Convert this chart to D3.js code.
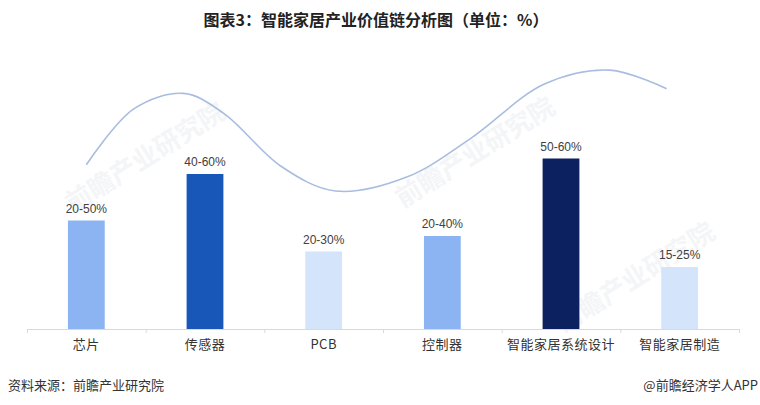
<!DOCTYPE html>
<html lang="zh-CN">
<head>
<meta charset="UTF-8">
<title>智能家居产业价值链分析图</title>
<script src="https://cdn.jsdelivr.net/npm/d3@7"></script>
<style>
  html, body { margin: 0; padding: 0; background: #fff; }
  svg { display: block; font-family: "Noto Sans CJK SC", "Noto Sans", sans-serif; }
</style>
</head>
<body>
<svg id="chart" width="760" height="405"></svg>
<script>
// stages of the value chain
const categories = ['芯片', '传感器', 'PCB', '控制器', '智能家居系统设计', '智能家居制造']
// gross margin ranges as printed, and the midpoint each bar is drawn at
const rangeLabels = ['20-50%', '40-60%', '20-30%', '20-40%', '50-60%', '15-25%']
const midValues = [35, 50, 25, 30, 55, 20]
const barColors = ['#8cb4f2', '#1856b8', '#d4e4fb', '#8cb4f2', '#0c2260', '#d4e4fb']

// decorative "smile curve": [category position, value %]
const curveIdx = [0, 0.4, 0.82, 1.16, 1.64, 2.1, 2.7, 3.24, 3.86, 4.41, 4.89]
const curveVal = [53, 71, 76, 69.5, 52.5, 44.5, 49, 61.5, 79, 83.5, 77.5]

const w = 760
const h = 405
const left = 27, right = 739, base = 329

const svg = d3.select('#chart')

// x: band scale for the bars, linear scale for boundary ticks / curve
let x = d3.scaleBand()
          .domain(categories)
          .range([left, right])
          .paddingInner(0.69)
          .paddingOuter(0.345)
let xPos = d3.scaleLinear()
             .domain([0, categories.length])
             .range([left, right])

let y = d3.scaleLinear()
          .domain([0, 100])
          .range([base, base - 310])

// faint watermarks
const marks = [[150, 165], [480, 160], [640, 285]]
svg.append('g')
   .selectAll('text')
   .data(marks)
   .enter()
   .append('text')
   .attr('transform', d => `translate(${d[0]},${d[1]}) rotate(-32)`)
   .attr('text-anchor', 'middle')
   .attr('font-size', 26)
   .attr('font-weight', 700)
   .attr('fill', '#f4f5f7')
   .text('前瞻产业研究院')

// title
svg.append('text')
   .attr('x', 376)
   .attr('y', 26)
   .attr('text-anchor', 'middle')
   .attr('font-size', 16)
   .attr('font-weight', 700)
   .attr('fill', '#222')
   .text('图表3：智能家居产业价值链分析图（单位：%）')

// axis with ticks at the category boundaries
let xAxis = d3.axisBottom(xPos)
              .tickValues(d3.range(categories.length + 1))
              .tickSize(4)
              .tickFormat('')
let gx = svg.append('g')
            .attr('transform', `translate(0,${base})`)
            .call(xAxis)
gx.select('.domain').attr('stroke', '#d9d9d9')
gx.selectAll('.tick line').attr('stroke', '#d9d9d9')

// bars
svg.append('g')
   .selectAll('rect')
   .data(categories)
   .enter()
   .append('rect')
   .attr('x', d => x(d))
   .attr('y', (d, i) => y(midValues[i]))
   .attr('width', x.bandwidth())
   .attr('height', (d, i) => base - y(midValues[i]))
   .attr('fill', (d, i) => barColors[i])

// range labels above bars
svg.append('g')
   .selectAll('text')
   .data(categories)
   .enter()
   .append('text')
   .attr('x', d => x(d) + x.bandwidth() / 2)
   .attr('y', (d, i) => y(midValues[i]) - 8)
   .attr('text-anchor', 'middle')
   .attr('font-size', 12)
   .attr('font-family', '"Liberation Sans", Arial, sans-serif')
   .attr('fill', '#404040')
   .text((d, i) => rangeLabels[i])

// category labels
svg.append('g')
   .selectAll('text')
   .data(categories)
   .enter()
   .append('text')
   .attr('x', d => x(d) + x.bandwidth() / 2)
   .attr('y', base + 20)
   .attr('text-anchor', 'middle')
   .attr('font-size', 13)
   .attr('letter-spacing', 0.5)
   .attr('fill', '#333')
   .text(d => d)

// the curve
let curvePts = curveIdx.map((c, i) => [xPos(c + 0.5), y(curveVal[i])])
let line = d3.line().curve(d3.curveCatmullRom.alpha(0.5))
svg.append('path')
   .attr('d', line(curvePts))
   .attr('fill', 'none')
   .attr('stroke', '#a8bde0')
   .attr('stroke-width', 1.6)

// footer
svg.append('text')
   .attr('x', 8)
   .attr('y', 390)
   .attr('font-size', 13)
   .attr('fill', '#333')
   .text('资料来源：前瞻产业研究院')

svg.append('text')
   .attr('x', 758)
   .attr('y', 390)
   .attr('text-anchor', 'end')
   .attr('font-size', 13)
   .attr('fill', '#333')
   .text('@前瞻经济学人APP')
</script>
</body>
</html>
